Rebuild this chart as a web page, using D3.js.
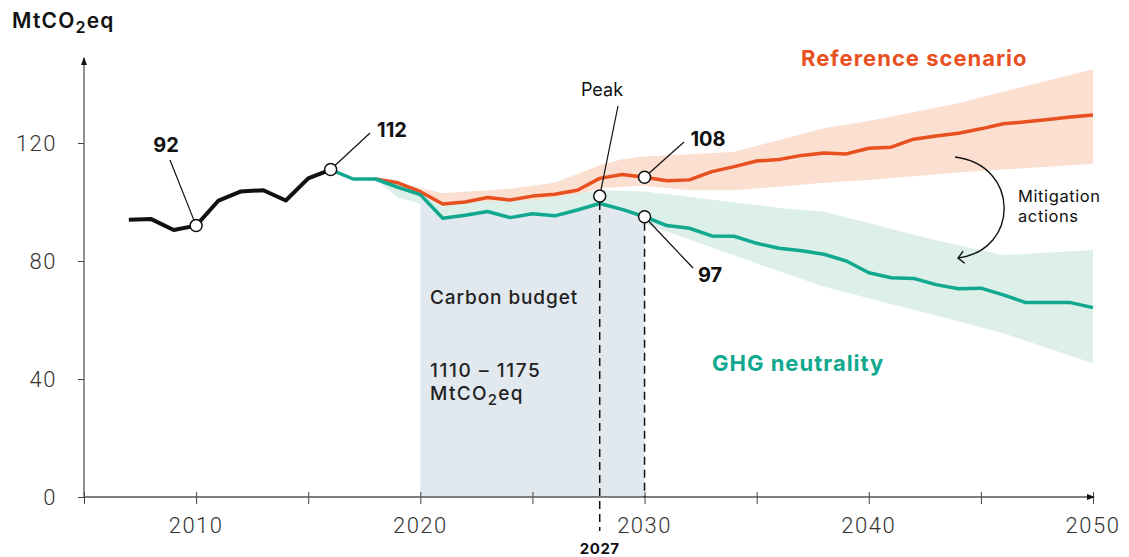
<!DOCTYPE html>
<html>
<head>
<meta charset="utf-8">
<script src="https://cdn.jsdelivr.net/npm/d3@7"></script>
<style>
  body { margin: 0; background: #fff; }
  text { font-family: Inter, 'Noto Sans', sans-serif; }
  .tick-label { font-family: Roboto, 'Liberation Sans', sans-serif; font-weight: 300; font-size: 22px; fill: #333; letter-spacing: 1.5px; }
</style>
</head>
<body>
<div id="chart"></div>
<script>
// historical emissions (MtCO2eq)
var histYears = [2007, 2008, 2009, 2010, 2011, 2012, 2013, 2014, 2015, 2016];
var histValues = [94, 94.2, 90.5, 92, 100.5, 103.6, 104, 100.5, 108, 111];

// GHG neutrality scenario
var ghgYears = [2016, 2017, 2018, 2019, 2020, 2021, 2022, 2023, 2024, 2025, 2026, 2027, 2028, 2029, 2030,
  2031, 2032, 2033, 2034, 2035, 2036, 2037, 2038, 2039, 2040, 2041, 2042, 2043, 2044, 2045, 2046, 2047, 2048, 2049, 2050];
var ghgValues = [111, 107.8, 107.8, 105, 102.5, 94.5, 95.5, 96.8, 94.7, 96, 95.3, 97.3, 99.5, 97.5, 95,
  92, 91.1, 88.5, 88.4, 86, 84.3, 83.5, 82.3, 80, 76, 74.3, 74.1, 72, 70.6, 70.8, 68.5, 65.9, 65.9, 65.9, 64.2];

// reference scenario
var refYears = [2018, 2019, 2020, 2021, 2022, 2023, 2024, 2025, 2026, 2027, 2028, 2029, 2030,
  2031, 2032, 2033, 2034, 2035, 2036, 2037, 2038, 2039, 2040, 2041, 2042, 2043, 2044, 2045, 2046, 2047, 2048, 2049, 2050];
var refValues = [107.8, 106.5, 103.5, 99.3, 100, 101.5, 100.7, 102, 102.6, 104, 108, 109.3, 108.4,
  107.2, 107.5, 110.3, 112, 113.9, 114.4, 115.8, 116.6, 116.3, 118.2, 118.6, 121.3, 122.4, 123.3, 124.8, 126.5, 127.2, 128, 128.8, 129.5];

// uncertainty ranges
var refBandYears = [2018, 2019, 2021, 2024, 2026, 2028, 2029, 2030, 2032, 2034, 2038, 2040, 2044, 2045, 2050];
var refBandLow = [107.8, 106, 98.5, 99, 100.5, 104.7, 105.2, 105.5, 104, 104, 106.5, 107.5, 110, 110.5, 113];
var refBandHigh = [107.8, 106.5, 103, 104.5, 106.5, 112.5, 114.5, 115.4, 116.2, 117, 125, 127.5, 133.5, 135.5, 145];

var ghgBandYears = [2018, 2019, 2020, 2021, 2025, 2028, 2030, 2036, 2038, 2043, 2046, 2050];
var ghgBandLow = [107.8, 101.5, 99.5, 93, 93.5, 95, 92.7, 76.5, 71.3, 61.5, 55.5, 45.3];
var ghgBandHigh = [107.8, 105.5, 102.5, 100, 100.5, 104, 103.6, 98, 96.7, 87, 82, 83.7];

// carbon budget window
var budgetYears = [2020, 2030];

// axes
var xTicks = [2005, 2010, 2015, 2020, 2025, 2030, 2035, 2040, 2045, 2050];
var xLabels = [2010, 2020, 2030, 2040, 2050];
var yTicks = [0, 40, 80, 120];

// annotations
var peakYear = 2028, peakValue = 102, peakLabel = '2027';

var width = 1129;
var height = 557;
var orange = '#e8501f';
var teal = '#10a88e';

var x = d3.scaleLinear().domain([2005, 2050]).range([84, 1093]);
var y = d3.scaleLinear().domain([0, 120]).range([497, 143]);

var svg = d3.select('#chart').append('svg')
  .attr('width', width)
  .attr('height', height);

createMarkers(svg);
createBands(svg);
createBudget(svg);
createAxes(svg);
createLines(svg);
createAnnotations(svg);

function zip(xs, ys) {
  return xs.map(function (d, i) { return [d, ys[i]]; });
}

function createMarkers(dom) {
  var defs = dom.append('defs');
  defs.append('marker')
    .attr('id', 'axis-arrow')
    .attr('markerUnits', 'userSpaceOnUse')
    .attr('markerWidth', 10).attr('markerHeight', 10)
    .attr('refX', 7).attr('refY', 4)
    .attr('orient', 'auto')
    .append('path')
    .attr('d', 'M0,1 L8,4 L0,7 z')
    .attr('fill', '#111');
  defs.append('marker')
    .attr('id', 'open-arrow')
    .attr('markerUnits', 'userSpaceOnUse')
    .attr('markerWidth', 14).attr('markerHeight', 14)
    .attr('refX', 7).attr('refY', 7)
    .attr('orient', 'auto')
    .append('path')
    .attr('d', 'M1,1 L7,7 L1,13')
    .attr('fill', 'none')
    .attr('stroke', '#111')
    .attr('stroke-width', 1.4);
}

// bandes d'incertitude
function createBands(dom) {
  var area = d3.area()
    .x(function (d) { return x(d[0]); })
    .y0(function (d) { return y(d[1]); })
    .y1(function (d) { return y(d[2]); });

  dom.append('path')
    .attr('d', area(refBandYears.map(function (d, i) { return [d, refBandLow[i], refBandHigh[i]]; })))
    .attr('fill', '#fbdfd1');

  dom.append('path')
    .attr('d', area(ghgBandYears.map(function (d, i) { return [d, ghgBandLow[i], ghgBandHigh[i]]; })))
    .attr('fill', '#dcefe9');
}

function createBudget(dom) {
  var pts = zip(ghgYears, ghgValues).filter(function (d) {
    return d[0] >= budgetYears[0] && d[0] <= budgetYears[1];
  });
  var area = d3.area()
    .x(function (d) { return x(d[0]); })
    .y0(y(0))
    .y1(function (d) { return y(d[1]); });
  dom.append('path')
    .attr('d', area(pts))
    .attr('fill', '#e1e9ef');

  var g = dom.append('g').attr('fill', '#222')
    .style('font-size', '19px').style('font-weight', 500).style('letter-spacing', '0.9px');
  g.append('text').attr('x', 430).attr('y', 304).text('Carbon budget');
  g.append('text').attr('x', 430).attr('y', 377).style('letter-spacing', '1.6px').text('1110 – 1175');
  var t = g.append('text').attr('x', 430).attr('y', 400).style('letter-spacing', '1.3px');
  t.append('tspan').text('MtCO');
  t.append('tspan').attr('dy', 5).style('font-size', '15px').text('2');
  t.append('tspan').attr('dy', -5).text('eq');
}

function createAxes(dom) {
  // x axis
  var xAxis = dom.append('g')
    .attr('transform', 'translate(0,' + y(0) + ')')
    .call(d3.axisBottom(x).tickValues(xTicks).tickSize(0).tickFormat(''));
  xAxis.select('.domain').remove();
  xAxis.selectAll('.tick').append('line')
    .attr('y1', -5).attr('y2', 7)
    .attr('stroke', '#444').attr('stroke-width', 1);
  xAxis.append('line')
    .attr('x1', x(2005)).attr('x2', x(2050) + 1)
    .attr('stroke', '#555').attr('stroke-width', 1.3)
    .attr('marker-end', 'url(#axis-arrow)');
  xAxis.selectAll('.x-label')
    .data(xLabels)
    .enter().append('text')
    .attr('class', 'tick-label')
    .attr('x', function (d) { return x(d); })
    .attr('y', 36)
    .attr('text-anchor', 'middle')
    .text(function (d) { return d; });

  // y axis
  var yAxis = dom.append('g')
    .attr('transform', 'translate(' + x(2005) + ',0)')
    .call(d3.axisLeft(y).tickValues(yTicks).tickSize(6).tickPadding(21));
  yAxis.select('.domain').remove();
  yAxis.selectAll('.tick line').attr('stroke', '#444');
  yAxis.selectAll('.tick text')
    .attr('class', 'tick-label')
    .attr('fill', null);
  yAxis.attr('font-size', null).attr('font-family', null);
  yAxis.append('line')
    .attr('x1', 0).attr('x2', 0)
    .attr('y1', y(0)).attr('y2', 58)
    .attr('stroke', '#555').attr('stroke-width', 1.3)
    .attr('marker-end', 'url(#axis-arrow)');

  var unit = dom.append('text')
    .attr('x', 12).attr('y', 28)
    .attr('fill', '#111')
    .style('font-size', '21px')
    .style('font-weight', 600)
    .style('letter-spacing', '1.2px');
  unit.append('tspan').text('MtCO');
  unit.append('tspan').attr('dy', 5).style('font-size', '16px').text('2');
  unit.append('tspan').attr('dy', -5).text('eq');
}

function createLines(dom) {
  var line = d3.line()
    .x(function (d) { return x(d[0]); })
    .y(function (d) { return y(d[1]); });

  dom.append('path')
    .attr('d', line(zip(refYears, refValues)))
    .attr('fill', 'none').attr('stroke', orange).attr('stroke-width', 3.5)
    .attr('stroke-linejoin', 'round');
  dom.append('path')
    .attr('d', line(zip(ghgYears, ghgValues)))
    .attr('fill', 'none').attr('stroke', teal).attr('stroke-width', 3.5)
    .attr('stroke-linejoin', 'round');
  dom.append('path')
    .attr('d', line(zip(histYears, histValues)))
    .attr('fill', 'none').attr('stroke', '#111').attr('stroke-width', 4)
    .attr('stroke-linejoin', 'round');
}

function createAnnotations(dom) {
  var valAt = function (years, values, yr) { return values[years.indexOf(yr)]; };
  var points = [
    { year: 2010, value: valAt(histYears, histValues, 2010), text: '92', tx: 166, ty: 152, lx: 170, ly: 160 },
    { year: 2016, value: valAt(histYears, histValues, 2016), text: '112', tx: 392, ty: 137, lx: 370, ly: 133 },
    { year: peakYear, value: peakValue, text: 'Peak', tx: 602, ty: 96, lx: 618, ly: 106, regular: true },
    { year: 2030, value: valAt(refYears, refValues, 2030), text: '108', tx: 708, ty: 146, lx: 684, ly: 142 },
    { year: 2030, value: valAt(ghgYears, ghgValues, 2030), text: '97', tx: 710, ty: 282, lx: 693, ly: 268 }
  ];

  // dashed guides
  dom.append('line')
    .attr('x1', x(peakYear)).attr('x2', x(peakYear))
    .attr('y1', y(peakValue) + 6).attr('y2', 531)
    .attr('stroke', '#111').attr('stroke-width', 1.5).attr('stroke-dasharray', '8,5');
  dom.append('line')
    .attr('x1', x(2030)).attr('x2', x(2030))
    .attr('y1', y(points[4].value) + 6).attr('y2', y(0))
    .attr('stroke', '#111').attr('stroke-width', 1.5).attr('stroke-dasharray', '8,5');
  dom.append('text')
    .attr('x', x(peakYear)).attr('y', 554)
    .attr('text-anchor', 'middle')
    .attr('fill', '#111')
    .style('font-size', '15px').style('font-weight', 700).style('letter-spacing', '0.5px')
    .text(peakLabel);

  var g = dom.append('g');
  points.forEach(function (p) {
    var cx = x(p.year), cy = y(p.value);
    g.append('line')
      .attr('x1', p.lx).attr('y1', p.ly)
      .attr('x2', cx).attr('y2', cy)
      .attr('stroke', '#111').attr('stroke-width', 1.2);
    g.append('circle')
      .attr('cx', cx).attr('cy', cy).attr('r', 6)
      .attr('fill', '#fff').attr('stroke', '#111').attr('stroke-width', 1.5);
    g.append('text')
      .attr('x', p.tx).attr('y', p.ty)
      .attr('text-anchor', 'middle')
      .attr('fill', '#111')
      .style('font-size', p.regular ? '18px' : '20px')
      .style('font-weight', p.regular ? 400 : 700)
      .text(p.text);
  });

  // scenario titles
  dom.append('text')
    .attr('x', 801).attr('y', 66)
    .attr('fill', orange)
    .style('font-size', '22px').style('font-weight', 700).style('letter-spacing', '1px')
    .text('Reference scenario');
  dom.append('text')
    .attr('x', 712).attr('y', 371)
    .attr('fill', teal)
    .style('font-size', '22px').style('font-weight', 700).style('letter-spacing', '1px')
    .text('GHG neutrality');

  // mitigation arrow
  dom.append('path')
    .attr('d', 'M955,157 C1020,165 1020,250 958,258')
    .attr('fill', 'none').attr('stroke', '#111').attr('stroke-width', 1.4)
    .attr('marker-end', 'url(#open-arrow)');
  var m = dom.append('text').attr('fill', '#111')
    .style('font-size', '16.5px').style('letter-spacing', '0.6px');
  m.append('tspan').attr('x', 1018).attr('y', 202).text('Mitigation');
  m.append('tspan').attr('x', 1018).attr('y', 222).text('actions');
}
</script>
</body>
</html>
